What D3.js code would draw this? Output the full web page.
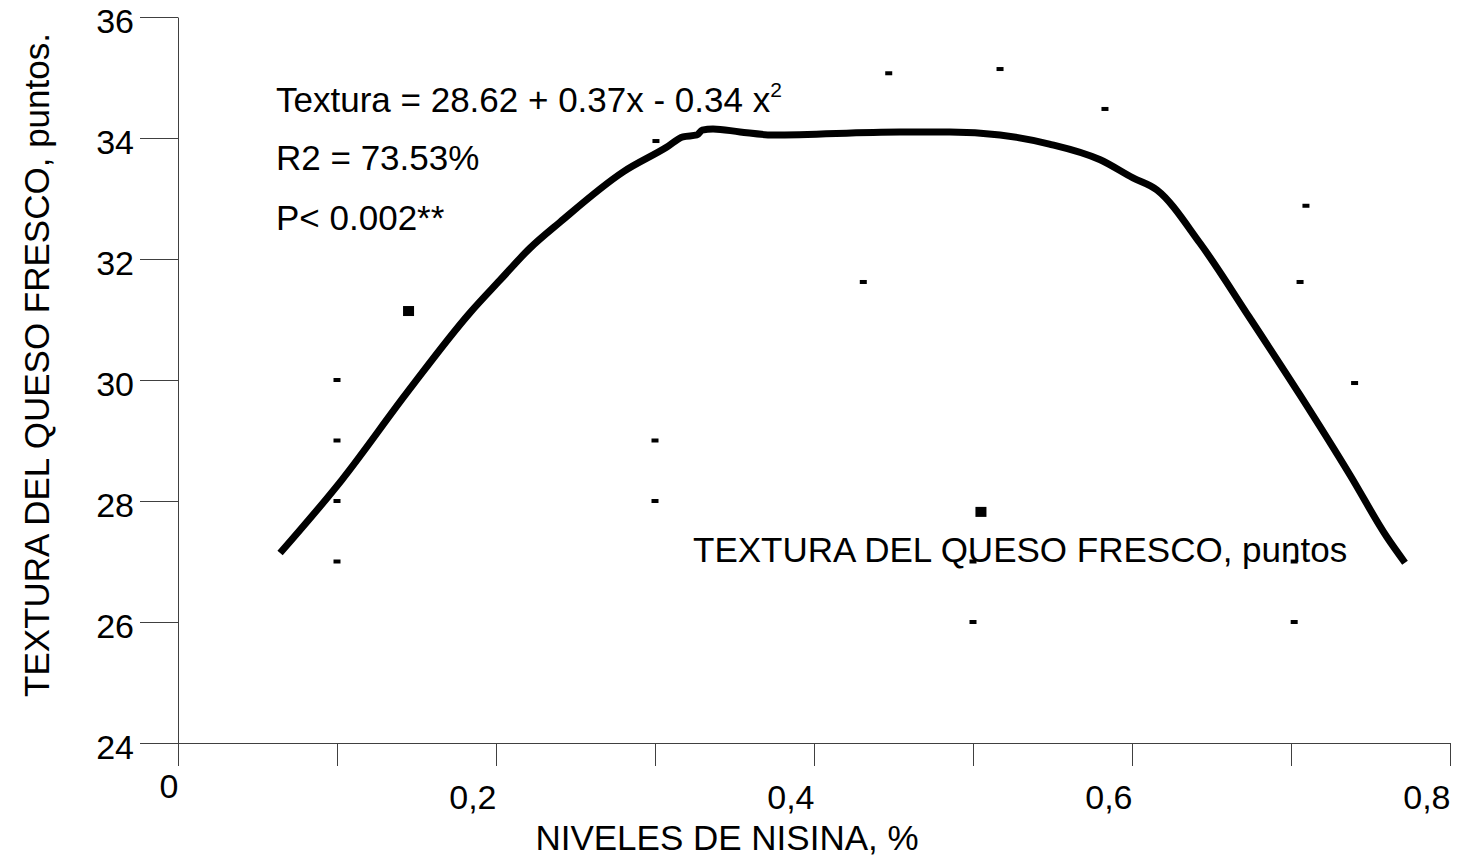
<!DOCTYPE html>
<html>
<head>
<meta charset="utf-8">
<script src="https://cdn.jsdelivr.net/npm/d3@7"></script>
<style>
  body { margin: 0; background: #fff; }
  svg { display: block; font-family: 'Liberation Sans', Arial, sans-serif; }
</style>
</head>
<body>
<svg id="chart" width="1457" height="867"></svg>
<script>
// observed points (small marks)
const obsX = [0.1, 0.1, 0.1, 0.1, 0.3, 0.3, 0.3006, 0.431, 0.447, 0.517, 0.583, 0.5, 0.5, 0.702, 0.702, 0.7094, 0.7057, 0.74]
const obsY = [30, 29, 28, 27, 29, 28, 33.95, 31.62, 35.07, 35.14, 34.48, 27, 26, 27, 26, 32.88, 31.62, 29.95]

// larger square marks
const bigX = [0.145, 0.505]
const bigY = [31.14, 27.82]

// fitted curve
const fitX = [0.0642, 0.1031, 0.144, 0.1836, 0.2025, 0.2214, 0.2403, 0.28, 0.3075, 0.3176, 0.3264, 0.3296, 0.3365, 0.3535, 0.374, 0.454, 0.4855, 0.517, 0.548, 0.58, 0.6006, 0.6157, 0.6428, 0.6742, 0.7057, 0.7371, 0.7604, 0.7717]
const fitY = [27.14, 28.35, 29.79, 31.11, 31.65, 32.18, 32.61, 33.44, 33.85, 34.02, 34.05, 34.13, 34.15, 34.1, 34.05, 34.1, 34.1, 34.05, 33.9, 33.64, 33.34, 33.14, 32.26, 31.02, 29.75, 28.43, 27.4, 26.98]

const xTickValues = [0, 0.1, 0.2, 0.3, 0.4, 0.5, 0.6, 0.7, 0.8]
const xTickLabels = ['0', '', '0,2', '', '0,4', '', '0,6', '', '0,8']
const yTickValues = [24, 26, 28, 30, 32, 34, 36]

const equationLines = ['R2 = 73.53%', 'P< 0.002**']
const seriesLabel = 'TEXTURA DEL QUESO FRESCO, puntos'
const xTitle = 'NIVELES DE NISINA, %'
const yTitle = 'TEXTURA DEL QUESO FRESCO, puntos.'

const svg = d3.select('#chart')
const axisColor = '#404040'
const fontFamily = 'Liberation Sans, Arial, sans-serif'

const x = d3.scaleLinear().domain([0, 0.8]).range([178, 1450])
const y = d3.scaleLinear().domain([24, 36]).range([743, 17])

// x axis
const xAxis = svg.append('g')
  .attr('transform', `translate(0,${y(24)})`)
  .call(d3.axisBottom(x)
    .tickValues(xTickValues)
    .tickSize(23)
    .tickSizeOuter(0)
    .tickFormat((d, i) => xTickLabels[i]))
xAxis.select('.domain').attr('stroke', axisColor)
xAxis.selectAll('.tick line').attr('stroke', axisColor)
xAxis.selectAll('.tick text')
  .attr('font-size', 34)
  .attr('font-family', fontFamily)
  .attr('fill', '#000')
  .attr('text-anchor', 'end')
  .attr('dy', null)
  .attr('y', (d, i) => i === 0 ? 55 : 66)

// y axis
const yAxis = svg.append('g')
  .attr('transform', `translate(${x(0)},0)`)
  .call(d3.axisLeft(y)
    .tickValues(yTickValues)
    .tickSize(38)
    .tickSizeOuter(0)
    .tickPadding(6)
    .tickFormat(d3.format('d')))
yAxis.select('.domain').attr('stroke', axisColor)
yAxis.selectAll('.tick line').attr('stroke', axisColor)
yAxis.selectAll('.tick text')
  .attr('font-size', 34)
  .attr('font-family', fontFamily)
  .attr('fill', '#000')
  .attr('dy', '0.45em')

// fitted curve
const line = d3.line()
  .x((d, i) => x(fitX[i]))
  .y((d, i) => y(fitY[i]))
  .curve(d3.curveMonotoneX)

svg.append('path')
  .datum(fitX)
  .attr('d', line)
  .attr('fill', 'none')
  .attr('stroke', '#000')
  .attr('stroke-width', 7)
  .attr('stroke-linejoin', 'round')

// observed marks
svg.append('g').selectAll('rect')
  .data(obsX)
  .join('rect')
  .attr('x', d => x(d) - 3.5)
  .attr('y', (d, i) => y(obsY[i]) - 2)
  .attr('width', 7)
  .attr('height', 4)
  .attr('fill', '#000')

svg.append('g').selectAll('rect')
  .data(bigX)
  .join('rect')
  .attr('x', d => x(d) - 5.5)
  .attr('y', (d, i) => y(bigY[i]) - 5)
  .attr('width', 11)
  .attr('height', 10)
  .attr('fill', '#000')

// equation text
const eq = svg.append('text')
  .attr('x', 276)
  .attr('y', 112)
  .attr('font-size', 35)
  .text('Textura = 28.62 + 0.37x - 0.34 x')
eq.append('tspan')
  .attr('font-size', 21)
  .attr('dy', -15)
  .text('2')

svg.selectAll('text.stat')
  .data(equationLines)
  .join('text')
  .attr('class', 'stat')
  .attr('x', 276)
  .attr('y', (d, i) => 170 + i * 60)
  .attr('font-size', 35)
  .text(d => d)

svg.append('text')
  .attr('x', 693)
  .attr('y', 562)
  .attr('font-size', 35)
  .text(seriesLabel)

// axis titles
svg.append('text')
  .attr('x', 727)
  .attr('y', 850)
  .attr('text-anchor', 'middle')
  .attr('font-size', 35)
  .text(xTitle)

svg.append('text')
  .attr('transform', 'translate(49,365) rotate(-90)')
  .attr('text-anchor', 'middle')
  .attr('font-size', 35)
  .text(yTitle)
</script>
</body>
</html>
